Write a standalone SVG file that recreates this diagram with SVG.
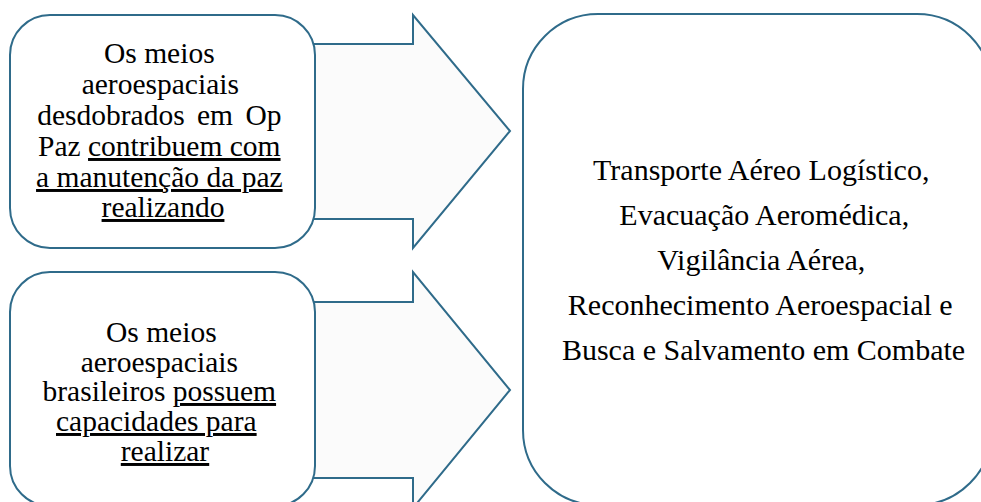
<svg xmlns="http://www.w3.org/2000/svg" width="981" height="502" viewBox="0 0 981 502">
<style>
.box{fill:#ffffff;stroke:#2f6b8a;stroke-width:2}
.arrow{fill:#fbfbfb;stroke:#2f6b8a;stroke-width:2;stroke-linejoin:miter}
.t{font-family:"Liberation Serif","Times New Roman",serif;font-size:29.5px;fill:#000;text-anchor:middle}
.r{font-family:"Liberation Serif","Times New Roman",serif;font-size:30px;fill:#000;text-anchor:middle}
.u{text-decoration:underline}
</style>
<rect width="981" height="502" fill="#ffffff"/>
<g id="connectors">
<path class="arrow" d="M300,44 L413,44 L413,15 L510,131 L413,248 L413,219 L300,219 Z"/>
<path class="arrow" d="M300,302 L413,302 L413,272 L510,390 L413,508 L413,478 L300,478 Z"/>
</g>
<g id="node1">
<rect class="box" x="10" y="15" width="305" height="233" rx="40" ry="40"/>
<text class="t">
<tspan x="163" y="63">Os meios</tspan>
<tspan x="164" y="94">aeroespaciais</tspan>
<tspan x="163" y="125" word-spacing="5">desdobrados em Op</tspan>
<tspan x="163" y="156">Paz <tspan class="u">contribuem com</tspan></tspan>
<tspan x="163" y="187" class="u">a manutenção da paz</tspan>
<tspan x="163" y="217" class="u">realizando</tspan>
</text>
</g>
<g id="node2">
<rect class="box" x="10" y="272" width="305" height="234" rx="40" ry="40"/>
<text class="t">
<tspan x="165" y="342">Os meios</tspan>
<tspan x="163" y="372">aeroespaciais</tspan>
<tspan x="163" y="401">brasileiros <tspan class="u">possuem</tspan></tspan>
<tspan x="160" y="431" class="u">capacidades para</tspan>
<tspan x="165" y="461" class="u">realizar</tspan>
</text>
</g>
<g id="node3">
<rect class="box" x="523" y="14" width="469" height="491" rx="75" ry="75"/>
<text class="r">
<tspan x="765" y="180">Transporte Aéreo Logístico,</tspan>
<tspan x="768" y="225">Evacuação Aeromédica,</tspan>
<tspan x="765" y="270">Vigilância Aérea,</tspan>
<tspan x="764" y="315">Reconhecimento Aeroespacial e</tspan>
<tspan x="763.5" y="360">Busca e Salvamento em Combate</tspan>
</text>
</g>
</svg>
